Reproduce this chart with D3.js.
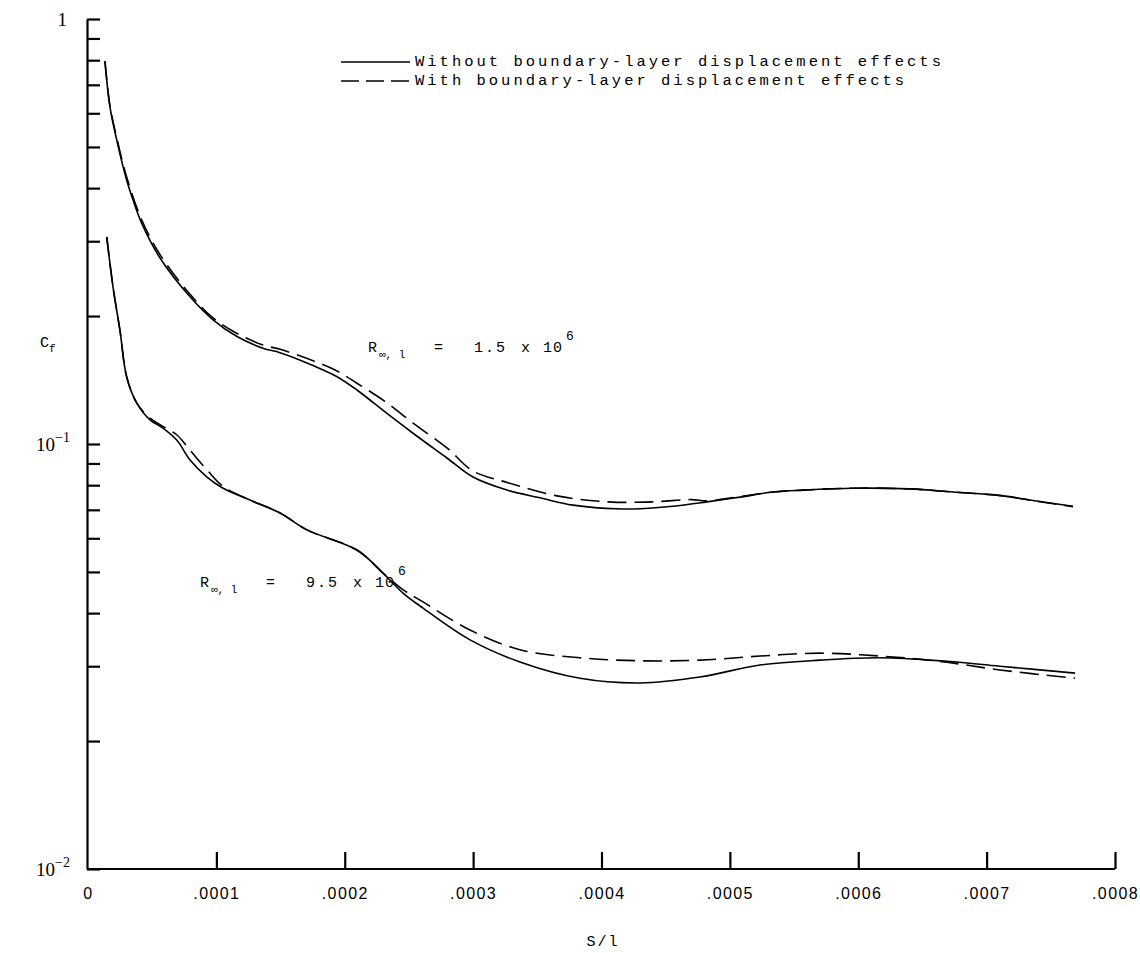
<!DOCTYPE html>
<html>
<head>
<meta charset="utf-8">
<script src="https://cdn.jsdelivr.net/npm/d3@7"></script>
<style>
 body { margin: 0; background: #fff; }
 .axis path, .axis line { stroke: #000; stroke-width: 2.2; }
 .curve { fill: none; stroke: #000; stroke-width: 1.6; }
 .mono { font-family: "Liberation Mono", "DejaVu Sans Mono", monospace; }
</style>
</head>
<body>
<svg width="1140" height="953"></svg>
<script>
// S/l positions and skin friction
const upperSolidS = [0.0000132, 0.0000171, 0.0000224, 0.0000301, 0.0000351, 0.0000418, 0.0000561, 0.0000795, 0.0000974, 0.0001161, 0.0001363, 0.0001496, 0.0001753, 0.000194, 0.0002095, 0.0002329, 0.0002532, 0.0002796, 0.0002999, 0.0003264, 0.0003521, 0.0003778, 0.0004168, 0.0004557, 0.0004822, 0.0005079, 0.0005336, 0.000557, 0.0005959, 0.0006403, 0.0006738, 0.0007128, 0.0007392, 0.0007673];
const upperSolidCf = [0.796, 0.621, 0.519, 0.418, 0.375, 0.331, 0.274, 0.222, 0.196, 0.179, 0.168, 0.164, 0.153, 0.144, 0.134, 0.118, 0.106, 0.0927, 0.0836, 0.0779, 0.0747, 0.0718, 0.0703, 0.0714, 0.0731, 0.075, 0.0771, 0.0779, 0.0787, 0.0784, 0.0771, 0.0755, 0.0734, 0.0714];

const upperDashS = [0.0000132, 0.0000171, 0.0000224, 0.0000301, 0.0000418, 0.0000561, 0.0000795, 0.0000974, 0.0001161, 0.0001363, 0.0001496, 0.0001753, 0.000194, 0.0002095, 0.0002329, 0.0002532, 0.0002796, 0.0002999, 0.0003264, 0.0003653, 0.000405, 0.00044, 0.00047, 0.0004822, 0.0005079, 0.0005336, 0.000557, 0.0005959, 0.0006403, 0.0006738, 0.0007128, 0.0007392, 0.0007673];
const upperDashCf = [0.796, 0.625, 0.525, 0.425, 0.337, 0.279, 0.225, 0.198, 0.182, 0.171, 0.167, 0.157, 0.1485, 0.139, 0.125, 0.112, 0.0979, 0.0864, 0.0812, 0.0755, 0.0731, 0.0731, 0.074, 0.0735, 0.0752, 0.0771, 0.0779, 0.0787, 0.0784, 0.0771, 0.0755, 0.0733, 0.0712];

const lowerSolidS = [0.0000146, 0.0000195, 0.0000249, 0.0000301, 0.0000379, 0.0000483, 0.0000584, 0.0000693, 0.0000795, 0.0000927, 0.0001052, 0.0001262, 0.0001496, 0.0001706, 0.0002095, 0.0002298, 0.0002454, 0.000261, 0.0002976, 0.0003365, 0.0003833, 0.00043, 0.0004767, 0.0005235, 0.0005702, 0.000617, 0.0006637, 0.0007104, 0.0007689];
const lowerSolidCf = [0.307, 0.234, 0.185, 0.144, 0.125, 0.114, 0.109, 0.102, 0.0917, 0.0836, 0.0787, 0.0738, 0.0688, 0.0628, 0.0563, 0.0497, 0.0446, 0.0411, 0.0346, 0.0307, 0.0281, 0.0274, 0.0283, 0.0302, 0.031, 0.0314, 0.0309, 0.03, 0.0289];

const lowerDashS = [0.0000146, 0.0000195, 0.0000249, 0.0000301, 0.0000379, 0.0000483, 0.0000584, 0.0000693, 0.0000795, 0.0000927, 0.0001052, 0.0001262, 0.0001496, 0.0001706, 0.0002095, 0.0002298, 0.000245, 0.000261, 0.0002976, 0.0003365, 0.0003833, 0.00043, 0.0004767, 0.0005235, 0.0005702, 0.000617, 0.0006637, 0.0007104, 0.0007689];
const lowerDashCf = [0.307, 0.234, 0.185, 0.144, 0.125, 0.115, 0.11, 0.105, 0.0967, 0.0869, 0.0795, 0.0738, 0.0688, 0.0628, 0.0563, 0.0497, 0.0455, 0.0425, 0.0365, 0.0328, 0.0314, 0.0309, 0.031, 0.0317, 0.0322, 0.0317, 0.0308, 0.0294, 0.0281];

const xTicks = [0, 0.0001, 0.0002, 0.0003, 0.0004, 0.0005, 0.0006, 0.0007, 0.0008];
const xTickLabels = ["0", ".0001", ".0002", ".0003", ".0004", ".0005", ".0006", ".0007", ".0008"];
const yTicks = [0.01, 0.02, 0.03, 0.04, 0.05, 0.06, 0.07, 0.08, 0.09, 0.1, 0.2, 0.3, 0.4, 0.5, 0.6, 0.7, 0.8, 0.9, 1];
const yLabelValues = [1, 0.1, 0.01];
const yLabelExps = ["", "-1", "-2"];

const legendLabels = ["Without boundary-layer displacement effects", "With boundary-layer displacement effects"];
const reynoldsLabels = ["1.5", "9.5"];

const svg = d3.select("svg");
svg.append("rect").attr("width", 1140).attr("height", 953).attr("fill", "#fff");

const x = d3.scaleLinear().domain([0, 0.0008]).range([88, 1115]);
const y = d3.scaleLog().domain([0.01, 1]).range([869, 19]);

// y axis, ticks pointing into the plot
svg.append("g")
 .attr("class", "axis")
 .attr("transform", "translate(87,0)")
 .call(d3.axisRight(y).tickValues(yTicks).tickSize(13).tickSizeOuter(0).tickFormat(""));

// x axis, ticks pointing up, labels below
const xAxis = svg.append("g")
 .attr("class", "axis")
 .attr("transform", "translate(0,869)")
 .call(d3.axisBottom(x).tickValues(xTicks).tickSize(-17).tickSizeOuter(0).tickPadding(19)
  .tickFormat((d, i) => xTickLabels[i]));
xAxis.select(".domain").attr("d", "M87,0H1115");
xAxis.selectAll(".tick").filter(d => d === 0).select("line").remove();
xAxis.selectAll("text")
 .attr("font-family", "Liberation Sans, Arial, sans-serif")
 .attr("font-size", 16)
 .attr("letter-spacing", 1.4)
 .attr("fill", "#000");

// y labels 1, 10^-1, 10^-2
yLabelValues.forEach((v, i) => {
 const t = svg.append("text")
  .attr("x", 70)
  .attr("y", y(v) + 7)
  .attr("text-anchor", "end")
  .attr("font-family", "Liberation Serif, Times New Roman, serif")
  .attr("font-size", 19);
 if (yLabelExps[i] === "") {
  t.attr("x", 67).text("1");
 } else {
  t.append("tspan").text("10");
  t.append("tspan").attr("dy", -9).attr("font-size", 14).text("\u2212" + yLabelExps[i].slice(1));
 }
});

// axis titles
const cf = svg.append("text").attr("class", "mono").attr("x", 40).attr("y", 347).attr("font-size", 15);
cf.append("tspan").text("C");
cf.append("tspan").attr("dy", 5).attr("font-size", 11).text("f");

svg.append("text").attr("class", "mono")
 .attr("x", 603).attr("y", 946)
 .attr("text-anchor", "middle")
 .attr("font-size", 15)
 .attr("letter-spacing", 2)
 .text("S/l");

// curves
const line = d3.line()
 .x(d => x(d[0]))
 .y(d => y(d[1]))
 .curve(d3.curveCatmullRom.alpha(0.5));

const series = [
 { s: upperSolidS, cf: upperSolidCf, dash: null },
 { s: upperDashS, cf: upperDashCf, dash: "19,8" },
 { s: lowerSolidS, cf: lowerSolidCf, dash: null },
 { s: lowerDashS, cf: lowerDashCf, dash: "19,8" }
];

svg.selectAll(".curve")
 .data(series)
 .enter()
 .append("path")
 .attr("class", "curve")
 .attr("stroke-dasharray", d => d.dash)
 .attr("d", d => line(d.s.map((v, i) => [v, d.cf[i]])));

// legend
const legend = svg.append("g").attr("class", "mono");
legendLabels.forEach((lab, i) => {
 const ly = 62 + i * 19;
 legend.append("line")
  .attr("x1", 341).attr("x2", 410)
  .attr("y1", ly).attr("y2", ly)
  .attr("stroke", "#000").attr("stroke-width", 1.4)
  .attr("stroke-dasharray", i === 0 ? null : "18,7");
 legend.append("text")
  .attr("x", 415).attr("y", ly + 4)
  .attr("font-size", 15.5)
  .attr("letter-spacing", 3)
  .text(lab);
});

// Reynolds number annotations
const annX = [368, 200];
const annY = [352, 587];
reynoldsLabels.forEach((val, i) => {
 const g = svg.append("g").attr("class", "mono").attr("transform", `translate(${annX[i]},${annY[i]})`);
 g.append("text").attr("font-size", 15).text("R");
 g.append("text").attr("x", 11).attr("y", 6).attr("font-size", 11).text("\u221e, l");
 g.append("text").attr("x", 66).attr("font-size", 15).text("=");
 g.append("text").attr("x", 106).attr("font-size", 15).attr("letter-spacing", 2).text(val);
 g.append("text").attr("x", 153).attr("font-size", 15).text("x");
 g.append("text").attr("x", 175).attr("font-size", 15).attr("letter-spacing", 1).text("10");
 g.append("text").attr("x", 198).attr("y", -12).attr("font-size", 13).text("6");
});
</script>
</body>
</html>
